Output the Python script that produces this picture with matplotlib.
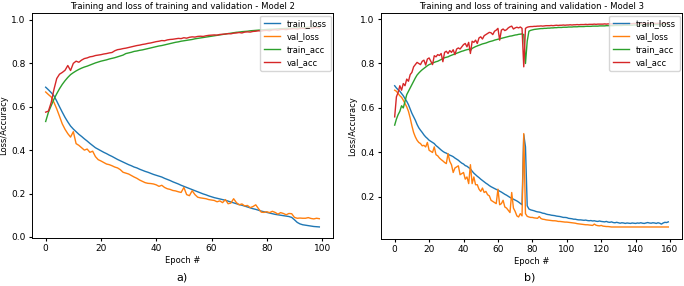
import matplotlib
matplotlib.use('Agg')
import matplotlib.pyplot as plt

# Model 2 history (100 epochs)
m2_train_loss = [
    0.690, 0.678, 0.665, 0.650, 0.626, 0.600, 0.575, 0.551, 0.530, 0.511,
    0.497, 0.485, 0.473, 0.463, 0.452, 0.442, 0.431, 0.421, 0.411, 0.404,
    0.397, 0.390, 0.384, 0.377, 0.371, 0.364, 0.357, 0.351, 0.345, 0.339,
    0.333, 0.328, 0.322, 0.318, 0.312, 0.307, 0.302, 0.298, 0.293, 0.288,
    0.284, 0.280, 0.276, 0.270, 0.265, 0.260, 0.254, 0.249, 0.244, 0.238,
    0.233, 0.228, 0.223, 0.218, 0.213, 0.208, 0.203, 0.198, 0.194, 0.189,
    0.185, 0.181, 0.178, 0.175, 0.172, 0.169, 0.165, 0.161, 0.157, 0.153,
    0.149, 0.146, 0.142, 0.138, 0.134, 0.130, 0.127, 0.123, 0.119, 0.116,
    0.113, 0.110, 0.107, 0.104, 0.102, 0.100, 0.098, 0.096, 0.094, 0.090,
    0.079, 0.067, 0.060, 0.056, 0.054, 0.052, 0.050, 0.048, 0.047, 0.046]
m2_val_loss = [
    0.668, 0.656, 0.645, 0.620, 0.590, 0.556, 0.521, 0.496, 0.476, 0.460,
    0.485, 0.430, 0.422, 0.411, 0.400, 0.405, 0.390, 0.395, 0.370, 0.356,
    0.350, 0.343, 0.336, 0.333, 0.328, 0.322, 0.318, 0.310, 0.298, 0.294,
    0.290, 0.283, 0.276, 0.270, 0.262, 0.256, 0.250, 0.247, 0.246, 0.244,
    0.240, 0.233, 0.238, 0.228, 0.222, 0.219, 0.214, 0.212, 0.208, 0.205,
    0.228, 0.195, 0.190, 0.213, 0.195, 0.183, 0.180, 0.178, 0.176, 0.172,
    0.170, 0.168, 0.162, 0.166, 0.158, 0.172, 0.153, 0.156, 0.176, 0.158,
    0.148, 0.152, 0.143, 0.145, 0.135, 0.140, 0.148, 0.130, 0.114, 0.113,
    0.116, 0.112, 0.118, 0.113, 0.105, 0.112, 0.108, 0.102, 0.108, 0.107,
    0.090, 0.086, 0.087, 0.086, 0.086, 0.089, 0.085, 0.083, 0.086, 0.084]
m2_train_acc = [
    0.532, 0.575, 0.605, 0.635, 0.660, 0.683, 0.703, 0.720, 0.735, 0.748,
    0.757, 0.765, 0.772, 0.778, 0.783, 0.787, 0.792, 0.797, 0.802, 0.806,
    0.810, 0.813, 0.816, 0.820, 0.823, 0.826, 0.830, 0.834, 0.838, 0.845,
    0.848, 0.851, 0.855, 0.857, 0.860, 0.862, 0.865, 0.868, 0.871, 0.874,
    0.877, 0.880, 0.882, 0.885, 0.888, 0.891, 0.894, 0.897, 0.899, 0.902,
    0.904, 0.906, 0.908, 0.910, 0.913, 0.915, 0.917, 0.919, 0.921, 0.923,
    0.925, 0.927, 0.929, 0.931, 0.933, 0.935, 0.937, 0.939, 0.941, 0.943,
    0.944, 0.946, 0.947, 0.948, 0.950, 0.951, 0.952, 0.953, 0.954, 0.955,
    0.956, 0.957, 0.957, 0.958, 0.959, 0.960, 0.960, 0.961, 0.962, 0.962,
    0.963, 0.964, 0.964, 0.965, 0.966, 0.966, 0.967, 0.967, 0.968, 0.968]
m2_val_acc = [
    0.575, 0.580, 0.620, 0.680, 0.730, 0.750, 0.758, 0.768, 0.790, 0.767,
    0.800, 0.810, 0.805, 0.815, 0.822, 0.825, 0.830, 0.832, 0.836, 0.838,
    0.840, 0.843, 0.845, 0.848, 0.850, 0.858, 0.863, 0.865, 0.868, 0.870,
    0.873, 0.876, 0.879, 0.882, 0.884, 0.887, 0.889, 0.892, 0.894, 0.897,
    0.900, 0.902, 0.905, 0.904, 0.908, 0.910, 0.911, 0.913, 0.915, 0.914,
    0.918, 0.916, 0.920, 0.922, 0.921, 0.924, 0.925, 0.924, 0.927, 0.929,
    0.930, 0.931, 0.930, 0.933, 0.934, 0.935, 0.937, 0.936, 0.939, 0.940,
    0.942, 0.940, 0.944, 0.945, 0.944, 0.947, 0.948, 0.950, 0.949, 0.951,
    0.952, 0.950, 0.954, 0.955, 0.953, 0.956, 0.957, 0.955, 0.958, 0.959,
    0.960, 0.958, 0.961, 0.962, 0.960, 0.963, 0.962, 0.964, 0.965, 0.963]

# Model 3 history (160 epochs)
m3_train_loss = [
    0.700, 0.690, 0.682, 0.675, 0.665, 0.655, 0.642, 0.630, 0.615, 0.596,
    0.576, 0.560, 0.545, 0.526, 0.511, 0.500, 0.490, 0.479, 0.470, 0.463,
    0.455, 0.450, 0.445, 0.440, 0.431, 0.425, 0.418, 0.411, 0.405, 0.400,
    0.397, 0.392, 0.388, 0.385, 0.381, 0.375, 0.370, 0.365, 0.358, 0.352,
    0.348, 0.341, 0.338, 0.332, 0.326, 0.316, 0.307, 0.300, 0.293, 0.287,
    0.280, 0.274, 0.268, 0.262, 0.257, 0.251, 0.246, 0.242, 0.238, 0.234,
    0.231, 0.226, 0.222, 0.217, 0.212, 0.208, 0.203, 0.198, 0.194, 0.190,
    0.186, 0.182, 0.177, 0.171, 0.165, 0.480, 0.425, 0.160, 0.146, 0.142,
    0.140, 0.138, 0.135, 0.133, 0.132, 0.130, 0.127, 0.126, 0.123, 0.121,
    0.120, 0.118, 0.117, 0.116, 0.114, 0.113, 0.112, 0.110, 0.108, 0.108,
    0.107, 0.104, 0.103, 0.102, 0.100, 0.100, 0.098, 0.097, 0.097, 0.096,
    0.095, 0.096, 0.094, 0.093, 0.094, 0.092, 0.093, 0.091, 0.090, 0.092,
    0.090, 0.089, 0.088, 0.090, 0.087, 0.086, 0.088, 0.085, 0.084, 0.086,
    0.084, 0.082, 0.084, 0.083, 0.081, 0.083, 0.082, 0.081, 0.083, 0.082,
    0.081, 0.083, 0.082, 0.084, 0.082, 0.081, 0.083, 0.085, 0.083, 0.082,
    0.084, 0.083, 0.081, 0.084, 0.082, 0.078, 0.083, 0.086, 0.085, 0.088]
m3_val_loss = [
    0.680, 0.675, 0.665, 0.655, 0.648, 0.635, 0.620, 0.605, 0.585, 0.555,
    0.520, 0.490, 0.470, 0.455, 0.445, 0.440, 0.430, 0.432, 0.425, 0.445,
    0.410, 0.405, 0.400, 0.425, 0.390, 0.385, 0.375, 0.368, 0.362, 0.355,
    0.350, 0.395, 0.360, 0.345, 0.310, 0.330, 0.335, 0.340, 0.300, 0.305,
    0.310, 0.280, 0.290, 0.260, 0.345, 0.260, 0.290, 0.255, 0.255, 0.235,
    0.225, 0.240, 0.220, 0.225, 0.210, 0.205, 0.185, 0.180, 0.175, 0.170,
    0.235, 0.165, 0.170, 0.185, 0.155, 0.150, 0.140, 0.130, 0.220, 0.150,
    0.135, 0.115, 0.110, 0.125, 0.115, 0.485, 0.125, 0.113, 0.110, 0.108,
    0.108, 0.106, 0.105, 0.104, 0.112, 0.103, 0.100, 0.099, 0.097, 0.096,
    0.095, 0.094, 0.093, 0.093, 0.092, 0.090, 0.090, 0.089, 0.088, 0.087,
    0.087, 0.086, 0.085, 0.084, 0.083, 0.082, 0.080, 0.079, 0.078, 0.077,
    0.076, 0.075, 0.075, 0.074, 0.073, 0.072, 0.078, 0.073, 0.071, 0.070,
    0.072, 0.069, 0.068, 0.067, 0.067, 0.066, 0.065, 0.065, 0.065, 0.065,
    0.065, 0.065, 0.065, 0.065, 0.065, 0.065, 0.065, 0.065, 0.065, 0.065,
    0.065, 0.065, 0.065, 0.065, 0.065, 0.065, 0.065, 0.065, 0.065, 0.065,
    0.065, 0.065, 0.065, 0.065, 0.065, 0.065, 0.065, 0.065, 0.065, 0.065]
m3_train_acc = [
    0.523, 0.550, 0.570, 0.585, 0.610, 0.600, 0.630, 0.660, 0.675, 0.690,
    0.705, 0.720, 0.735, 0.748, 0.757, 0.765, 0.772, 0.778, 0.784, 0.790,
    0.795, 0.798, 0.802, 0.805, 0.808, 0.810, 0.814, 0.818, 0.822, 0.826,
    0.828, 0.830, 0.834, 0.837, 0.840, 0.843, 0.846, 0.849, 0.852, 0.855,
    0.857, 0.860, 0.862, 0.864, 0.858, 0.868, 0.872, 0.876, 0.879, 0.882,
    0.885, 0.888, 0.890, 0.892, 0.895, 0.898, 0.900, 0.902, 0.905, 0.907,
    0.909, 0.911, 0.913, 0.915, 0.917, 0.919, 0.921, 0.923, 0.924, 0.926,
    0.928, 0.929, 0.931, 0.932, 0.933, 0.930, 0.800, 0.900, 0.945, 0.949,
    0.951, 0.953, 0.954, 0.955, 0.956, 0.957, 0.957, 0.958, 0.958, 0.959,
    0.959, 0.960, 0.960, 0.961, 0.961, 0.962, 0.962, 0.962, 0.963, 0.963,
    0.963, 0.964, 0.964, 0.964, 0.965, 0.965, 0.965, 0.966, 0.966, 0.966,
    0.966, 0.967, 0.967, 0.967, 0.967, 0.968, 0.968, 0.968, 0.968, 0.969,
    0.969, 0.969, 0.969, 0.970, 0.970, 0.970, 0.970, 0.970, 0.971, 0.971,
    0.971, 0.971, 0.971, 0.972, 0.972, 0.972, 0.972, 0.972, 0.972, 0.973,
    0.973, 0.973, 0.973, 0.973, 0.973, 0.974, 0.974, 0.974, 0.974, 0.974,
    0.974, 0.975, 0.975, 0.975, 0.975, 0.975, 0.975, 0.976, 0.976, 0.976]
m3_val_acc = [
    0.560, 0.650, 0.670, 0.700, 0.680, 0.710, 0.700, 0.730, 0.720, 0.750,
    0.760, 0.785, 0.795, 0.805, 0.800, 0.795, 0.810, 0.815, 0.793, 0.820,
    0.825, 0.810, 0.795, 0.835, 0.830, 0.840, 0.836, 0.845, 0.808, 0.850,
    0.855, 0.845, 0.858, 0.850, 0.862, 0.840, 0.865, 0.870, 0.865, 0.875,
    0.885, 0.890, 0.875, 0.895, 0.845, 0.900, 0.895, 0.905, 0.890, 0.915,
    0.920, 0.910, 0.925, 0.930, 0.935, 0.940, 0.938, 0.930, 0.945, 0.950,
    0.958, 0.905, 0.950, 0.955, 0.948, 0.952, 0.960, 0.965, 0.968, 0.955,
    0.960, 0.963, 0.960, 0.964, 0.958, 0.785, 0.958, 0.963, 0.965, 0.966,
    0.966, 0.967, 0.967, 0.968, 0.968, 0.969, 0.968, 0.969, 0.970, 0.970,
    0.970, 0.971, 0.970, 0.971, 0.972, 0.971, 0.972, 0.972, 0.973, 0.972,
    0.973, 0.973, 0.974, 0.973, 0.974, 0.974, 0.975, 0.974, 0.975, 0.975,
    0.975, 0.976, 0.975, 0.976, 0.976, 0.976, 0.977, 0.976, 0.977, 0.977,
    0.977, 0.977, 0.978, 0.977, 0.978, 0.978, 0.978, 0.978, 0.979, 0.978,
    0.979, 0.979, 0.979, 0.978, 0.979, 0.979, 0.980, 0.979, 0.979, 0.980,
    0.980, 0.979, 0.980, 0.980, 0.980, 0.979, 0.980, 0.980, 0.981, 0.980,
    0.980, 0.981, 0.980, 0.981, 0.981, 0.980, 0.981, 0.981, 0.981, 0.981]

panels = [
    ('Training and loss of training and validation - Model 2', 'a)',
     m2_train_loss, m2_val_loss, m2_train_acc, m2_val_acc),
    ('Training and loss of training and validation - Model 3', 'b)',
     m3_train_loss, m3_val_loss, m3_train_acc, m3_val_acc),
]

fig = plt.figure(figsize=(6.84, 2.86), dpi=100)
rects = [[32 / 684, 48 / 286, 301 / 684, 225 / 286],
         [381 / 684, 47 / 286, 301 / 684, 226 / 286]]
ylims = [(-0.005, 1.032), (0.011, 1.027)]
letter_x = [182 / 684, 530 / 684]

for i, (title, letter, tl, vl, ta, va) in enumerate(panels):
    ax = fig.add_axes(rects[i])
    xs = list(range(len(tl)))
    ax.plot(xs, tl, color='#1f77b4', linewidth=1.0, label='train_loss')
    ax.plot(xs, vl, color='#ff7f0e', linewidth=1.0, label='val_loss')
    ax.plot(xs, ta, color='#2ca02c', linewidth=1.0, label='train_acc')
    ax.plot(xs, va, color='#d62728', linewidth=1.0, label='val_acc')
    ax.set_ylim(*ylims[i])
    ax.set_title(title, fontsize=6.1, pad=3)
    ax.set_xlabel('Epoch #', fontsize=6, labelpad=2)
    ax.set_ylabel('Loss/Accuracy', fontsize=6, labelpad=2)
    ax.tick_params(labelsize=6.5, length=2.5, pad=2)
    for sp in ax.spines.values():
        sp.set_linewidth(0.7)
    ax.legend(loc='upper right', fontsize=6, borderaxespad=0.3)
    fig.text(letter_x[i], 1 - 278 / 286, letter, ha='center', va='center', fontsize=8)

fig.savefig('out.png', dpi=100)
